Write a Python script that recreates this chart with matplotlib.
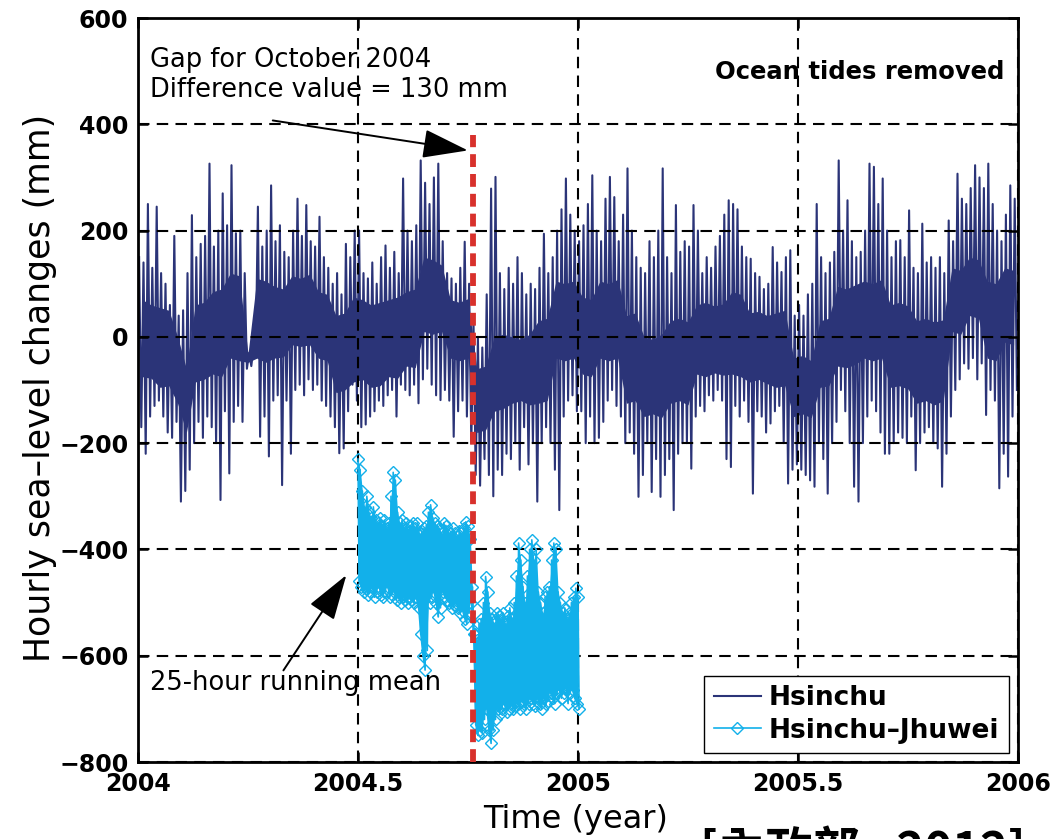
import numpy as np
import matplotlib
matplotlib.use("Agg")
import matplotlib.pyplot as plt

plt.rcParams['font.family'] = ['DejaVu Sans']

# Hsinchu, hourly sea level (tides removed): per 0.01-year bin, upper and lower extremes (mm)
hs_start = 2004.0
hs_step = 0.01
hs_hi = [150, 140, 250, 130, 245, 120, 100, 60, 190, 40,
         50, 120, 229, 150, 175, 190, 326, 170, 200, 270,
         210, 323, 195, 200, 120, -30, -20, 245, 170, 200,
         285, 180, 210, 160, 150, 200, 260, 190, 248, 180,
         170, 226, 150, 130, 100, 120, 80, 175, 150, 200,
         200, 120, 110, 140, 100, 150, 172, 130, 160, 120,
         298, 200, 180, 210, 332, 290, 250, 300, 326, 180,
         120, 110, 100, 130, 179, 100, 30, 0, -20, 80,
         279, 301, 120, 90, 130, 100, 150, 120, 80, 100,
         90, 130, 194, 120, 150, 200, 240, 298, 230, 200,
         180, 210, 250, 304, 200, 180, 260, 301, 263, 180,
         230, 317, 200, 150, 130, 120, 180, 150, 200, 317,
         150, 120, 248, 160, 180, 170, 248, 200, 120, 150,
         130, 170, 190, 230, 257, 250, 240, 170, 150, 147,
         120, 113, 90, 100, 169, 140, 122, 150, 163, 40,
         60, 40, 80, 100, 250, 150, 120, 140, 160, 332,
         200, 257, 180, 150, 160, 200, 326, 320, 250, 298,
         200, 150, 180, 182, 150, 238, 130, 120, 213, 140,
         150, 130, 150, 120, 219, 180, 307, 260, 250, 280,
         323, 300, 280, 326, 250, 200, 180, 230, 285, 260]
hs_lo = [-170, -220, -150, -130, -120, -150, -180, -190, -160, -310,
         -290, -250, -200, -160, -190, -150, -170, -200, -307, -140,
         -257, -160, -130, -160, -60, -55, -40, -188, -150, -225,
         -120, -110, -279, -120, -220, -100, -90, -110, -80, -100,
         -90, -120, -130, -150, -170, -219, -210, -140, -90, -120,
         -170, -165, -150, -140, -120, -130, -110, -100, -150, -90,
         -100, -110, -90, -125, -80, -60, -90, -110, -119, -100,
         -120, -188, -140, -120, -150, -200, -260, -280, -230, -260,
         -300, -250, -260, -220, -230, -200, -250, -170, -240, -200,
         -310, -200, -170, -200, -250, -326, -150, -120, -110, -140,
         -140, -200, -150, -200, -190, -160, -120, -100, -130, -150,
         -200, -180, -220, -301, -260, -200, -292, -230, -301, -260,
         -230, -326, -220, -200, -200, -248, -150, -130, -140, -110,
         -120, -100, -120, -230, -245, -130, -150, -120, -160, -295,
         -140, -150, -180, -163, -140, -130, -200, -276, -250, -240,
         -250, -260, -270, -282, -200, -230, -295, -200, -160, -100,
         -140, -200, -282, -310, -200, -150, -120, -140, -180, -220,
         -220, -200, -180, -190, -200, -150, -251, -200, -180, -170,
         -200, -210, -282, -220, -150, -100, -80, -50, -60, -40,
         -80, -50, -147, -100, -120, -285, -220, -263, -150, -100]

# Hsinchu dense core of the hourly trace: per 0.02-year bin, top and bottom (mm)
core_step = 0.02
core_hi = [70, 60, 55, 50, 0, -60, 60, 65, 85, 90,
           120, 115, -32, 110, 105, 95, 90, 115, 110, 118,
           85, 80, 40, 45, 75, 70, 60, 65, 70, 75,
           85, 90, 150, 145, 135, 70, 65, 72, -60, -55,
           0, 5, 0, -5, 5, 30, 35, 105, 100, 105,
           75, 70, 105, 100, 108, 40, 45, 0, -5, 5,
           30, 35, 28, 60, 65, 58, 62, 85, 80, 45,
           48, 40, 45, 50, -40, -35, -45, 30, 35, 95,
           90, 98, 105, 100, 108, 60, 65, 58, 30, 35,
           28, 32, 130, 125, 150, 145, 105, 100, 130, 125]
core_lo = [-75, -78, -95, -92, -125, -180, -85, -80, -70, -75,
           -40, -45, -48, -40, -48, -40, -38, -15, -18, -15,
           -40, -45, -105, -100, -85, -80, -95, -92, -75, -78,
           -55, -58, 10, 5, 10, -40, -45, -40, -180, -175,
           -140, -135, -125, -120, -128, -125, -120, -40, -45, -40,
           -70, -75, -40, -45, -40, -125, -120, -150, -145, -152,
           -125, -120, -128, -70, -75, -68, -72, -70, -75, -85,
           -80, -88, -95, -92, -150, -145, -152, -95, -92, -55,
           -58, -52, -40, -45, -40, -95, -92, -98, -125, -120,
           -128, -120, 10, 5, 40, 35, -40, -45, -10, -15]

# Hsinchu-Jhuwei, 25-hour running mean: per 0.005-year bin, upper and lower extremes (mm)
hj_start = 2004.5
hj_step = 0.005
hj_hi = [-230, -250, -290, -320, -300, -330, -340, -320, -345, -350,
         -340, -355, -345, -360, -350, -300, -255, -270, -330, -350,
         -345, -360, -350, -365, -355, -350, -360, -350, -370, -365,
         -360, -355, -330, -316, -340, -350, -355, -360, -370, -350,
         -355, -365, -370, -360, -370, -375, -365, -370, -360, -348,
         -355, -380, -470, -560, -570, -540, -530, -500, -451, -480,
         -520, -530, -540, -520, -525, -530, -520, -540, -525, -510,
         -530, -500, -450, -388, -420, -470, -500, -450, -400, -382,
         -420, -400, -480, -500, -520, -490, -480, -470, -420, -388,
         -400, -480, -500, -520, -510, -530, -520, -500, -490, -473,
         -490]
hj_lo = [-460, -470, -480, -475, -485, -480, -470, -490, -480, -470,
         -485, -490, -480, -470, -490, -485, -480, -495, -490, -500,
         -490, -495, -500, -490, -495, -500, -490, -510, -560, -600,
         -627, -590, -500, -490, -480, -500, -527, -510, -480, -490,
         -495, -500, -510, -505, -500, -510, -520, -515, -530, -540,
         -520, -500, -560, -730, -750, -740, -745, -720, -700, -740,
         -765, -740, -720, -700, -710, -700, -690, -705, -700, -690,
         -700, -695, -690, -700, -685, -690, -700, -690, -680, -690,
         -695, -680, -690, -700, -680, -690, -685, -670, -680, -690,
         -670, -665, -680, -670, -660, -690, -670, -665, -680, -690,
         -700]

gap_year = 2004.762
gap_top = 380

navy = '#2b3478'
cyan = '#12b0ea'

# interleave extremes into one zig-zag series per station
hs_t = np.repeat(hs_start + hs_step * np.arange(len(hs_hi)), 2) + np.tile([0.25, 0.75], len(hs_hi)) * hs_step
hs_v = np.column_stack([hs_hi, hs_lo]).ravel()
core_t = hs_start + core_step * (np.arange(len(core_hi)) + 0.5)
hj_bin_t = hj_start + hj_step * np.arange(len(hj_hi))
hj_t = np.repeat(hj_bin_t, 2) + np.tile([0.0, 0.5], len(hj_hi)) * hj_step
hj_v = np.column_stack([hj_hi, hj_lo]).ravel()

fig = plt.figure(figsize=(10.5, 8.39), dpi=100)
ax = fig.add_axes([138 / 1050, 1 - 762 / 839, 880 / 1050, 744 / 839])

ax.fill_between(core_t, core_hi, core_lo, color=navy, lw=0, zorder=1)
ax.plot(hs_t, hs_v, color=navy, lw=1.5, zorder=1, label='Hsinchu')
ax.fill_between(hj_bin_t, hj_hi, hj_lo, color=cyan, lw=0, zorder=2)
ax.plot(hj_t, hj_v, color=cyan, lw=1.2, marker='D', ms=6.5, mfc='none', mew=1.0,
        zorder=2, label='Hsinchu\u2013Jhuwei')
ax.plot([gap_year, gap_year], [-800, gap_top], color='#d8312c', lw=4.2,
        ls=(0, (2.2, 1.2)), zorder=3)

ax.set_xlim(2004, 2006)
ax.set_ylim(-800, 600)
ax.set_xticks([2004, 2004.5, 2005, 2005.5, 2006])
ax.set_xticklabels(['2004', '2004.5', '2005', '2005.5', '2006'])
ax.set_yticks(np.arange(-800, 601, 200))
ax.set_axisbelow('line')
ax.grid(True, color='black', lw=1.5, ls=(0, (5.5, 3.5)))
ax.tick_params(direction='in', top=True, right=True, length=7, width=1.8,
               labelsize=17, pad=7)
for lab in ax.get_xticklabels() + ax.get_yticklabels():
    lab.set_fontweight('bold')
for sp in ax.spines.values():
    sp.set_linewidth(2.0)

ax.text(2004.027, 546, 'Gap for October 2004\nDifference value = 130 mm',
        fontsize=18.5, va='top', ha='left', linespacing=1.2)
ax.annotate('', xy=(2004.756, 350), xytext=(2004.300, 408),
            arrowprops=dict(arrowstyle='-|>,head_length=1.1,head_width=0.35',
                            mutation_scale=26, lw=1.4, color='black'))
ax.text(2004.027, -651, '25-hour running mean', fontsize=18.5, va='center', ha='left')
ax.annotate('', xy=(2004.477, -444), xytext=(2004.327, -632),
            arrowprops=dict(arrowstyle='-|>,head_length=1.1,head_width=0.35',
                            mutation_scale=26, lw=1.4, color='black'))
ax.text(2005.970, 499, 'Ocean tides removed', fontsize=17.5, fontweight='bold',
        va='center', ha='right')

leg = ax.legend(loc='lower right', frameon=True, fancybox=False,
                edgecolor='black', framealpha=1, borderaxespad=0.35,
                handlelength=1.8, handletextpad=0.3, borderpad=0.35,
                labelspacing=0.25, prop={'weight': 'bold', 'size': 19})
leg.get_frame().set_linewidth(1.0)

fig.text(40 / 1050, 1 - 388 / 839, 'Hourly sea\u2013level changes (mm)', rotation=90,
         fontsize=25, va='center', ha='center')
fig.text(483 / 1050, 11 / 839, 'Time (year)', fontsize=23, va='baseline', ha='left')
fig.text(700 / 1050, -27 / 839, '[內政部 , 2012]', fontsize=34, fontweight='bold',
         family=['Noto Sans CJK TC', 'DejaVu Sans'], va='baseline', ha='left')

fig.savefig('out.png', dpi=100)
